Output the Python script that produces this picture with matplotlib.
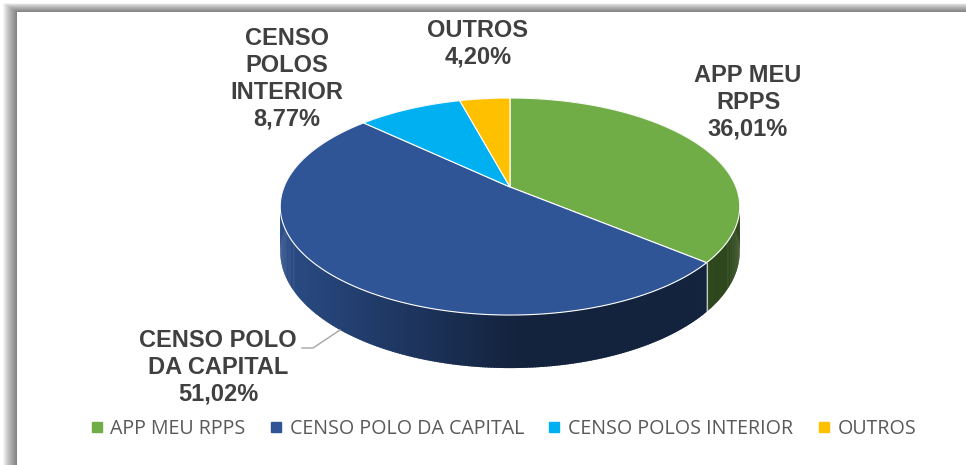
import numpy as np
import matplotlib.pyplot as plt
from matplotlib.patches import Polygon, Rectangle
from matplotlib.lines import Line2D
import matplotlib.colors as mcolors

# --- data ---
categories = ["APP MEU RPPS", "CENSO POLO DA CAPITAL", "CENSO POLOS INTERIOR", "OUTROS"]
label_names = ["APP MEU\nRPPS", "CENSO POLO\nDA CAPITAL", "CENSO\nPOLOS\nINTERIOR", "OUTROS"]
values = [36.01, 51.02, 8.77, 4.20]
colors = ["#70AD47", "#2F5597", "#00B0F0", "#FFC000"]

# --- 3d pie geometry (pixel space) ---
CX, CY = 510, 187
RX, RY = 226, 105
K = 0.18       # perspective strength
DEPTH = 43.5   # wall height

def proj(theta, drop=0.0):
    u = -np.cos(theta)
    v = np.sin(theta)
    w = 1 - K * u
    return CX + RX * v / w, CY + RY * u / w + drop / w

fig = plt.figure(figsize=(9.66, 4.65), dpi=100)
ax = fig.add_axes([0, 0, 1, 1])
ax.set_xlim(0, 966)
ax.set_ylim(465, 0)
ax.axis("off")

# panel with soft shadow on left / top
for i in range(14):
    off = 14 - i
    ax.add_patch(Rectangle((17 - off, 12 - off * 0.65), 1000, 500, facecolor="black",
                           edgecolor="none", alpha=0.045, zorder=1))
ax.add_patch(Rectangle((17, 12), 1000, 500, facecolor="white", edgecolor="none", zorder=2))

total = sum(values)
bounds = np.concatenate([[0], np.cumsum(values) / total * 2 * np.pi])

# walls
walls = []
for i, col in enumerate(colors):
    t0, t1 = bounds[i], bounds[i + 1]
    n = max(int((t1 - t0) / 0.01), 2)
    ts = np.linspace(t0, t1, n)
    base = np.array(mcolors.to_rgb(col))
    for a, b in zip(ts[:-1], ts[1:]):
        b2 = min(b + 0.006, t1)
        xa, ya = proj(a)
        xb, yb = proj(b2)
        xa2, ya2 = proj(a, DEPTH)
        xb2, yb2 = proj(b2, DEPTH)
        frac = np.clip(((xa + xb) / 2 - 285) / 230, 0, 1)
        shade = 0.88 - 0.47 * frac
        depth_key = -np.cos((a + b) / 2)
        walls.append((depth_key, [(xa, ya), (xb, yb), (xb2, yb2), (xa2, ya2)], base * shade))
walls.sort(key=lambda w: w[0])
for _, pts, c in walls:
    ax.add_patch(Polygon(pts, closed=True, facecolor=c, edgecolor="none", zorder=3))

# wall separators
for b in bounds[:-1]:
    if -np.cos(b) > 0:
        x1, y1 = proj(b)
        x2, y2 = proj(b, DEPTH)
        ax.plot([x1, x2], [y1, y2], color="white", lw=0.8, alpha=0.7, zorder=4)

# tops
for i, col in enumerate(colors):
    ts = np.linspace(bounds[i], bounds[i + 1], 200)
    xs, ys = proj(ts)
    pts = [(CX, CY)] + list(zip(xs, ys))
    ax.add_patch(Polygon(pts, closed=True, facecolor=col, edgecolor="white", lw=0.8, zorder=5))

# data labels
label_pos = [(748, 102), (218, 367), (287, 79), (478, 44)]
for name, val, (lx, ly) in zip(label_names, values, label_pos):
    txt = f"{name}\n{val:.2f}%".replace(".", ",")
    ax.text(lx, ly, txt, ha="center", va="center", fontsize=17, fontweight="bold",
            color="#404040", family="Liberation Sans", linespacing=1.22, zorder=6)

# leader line for capital label
ax.plot([302, 313, 340], [348, 348, 330], color="#a6a6a6", lw=1, zorder=6)

# legend
handles = [Line2D([], [], marker="s", ls="", color=c, markersize=6.5) for c in colors]
leg = ax.legend(handles, categories, loc="center", bbox_to_anchor=(503 / 966, 1 - 429 / 465),
                ncol=4, frameon=False, handlelength=0.7, handletextpad=0.35,
                columnspacing=1.2, labelcolor="#595959", prop={"family": "Open Sans", "size": 14.1})

fig.savefig("out.png", dpi=100)
